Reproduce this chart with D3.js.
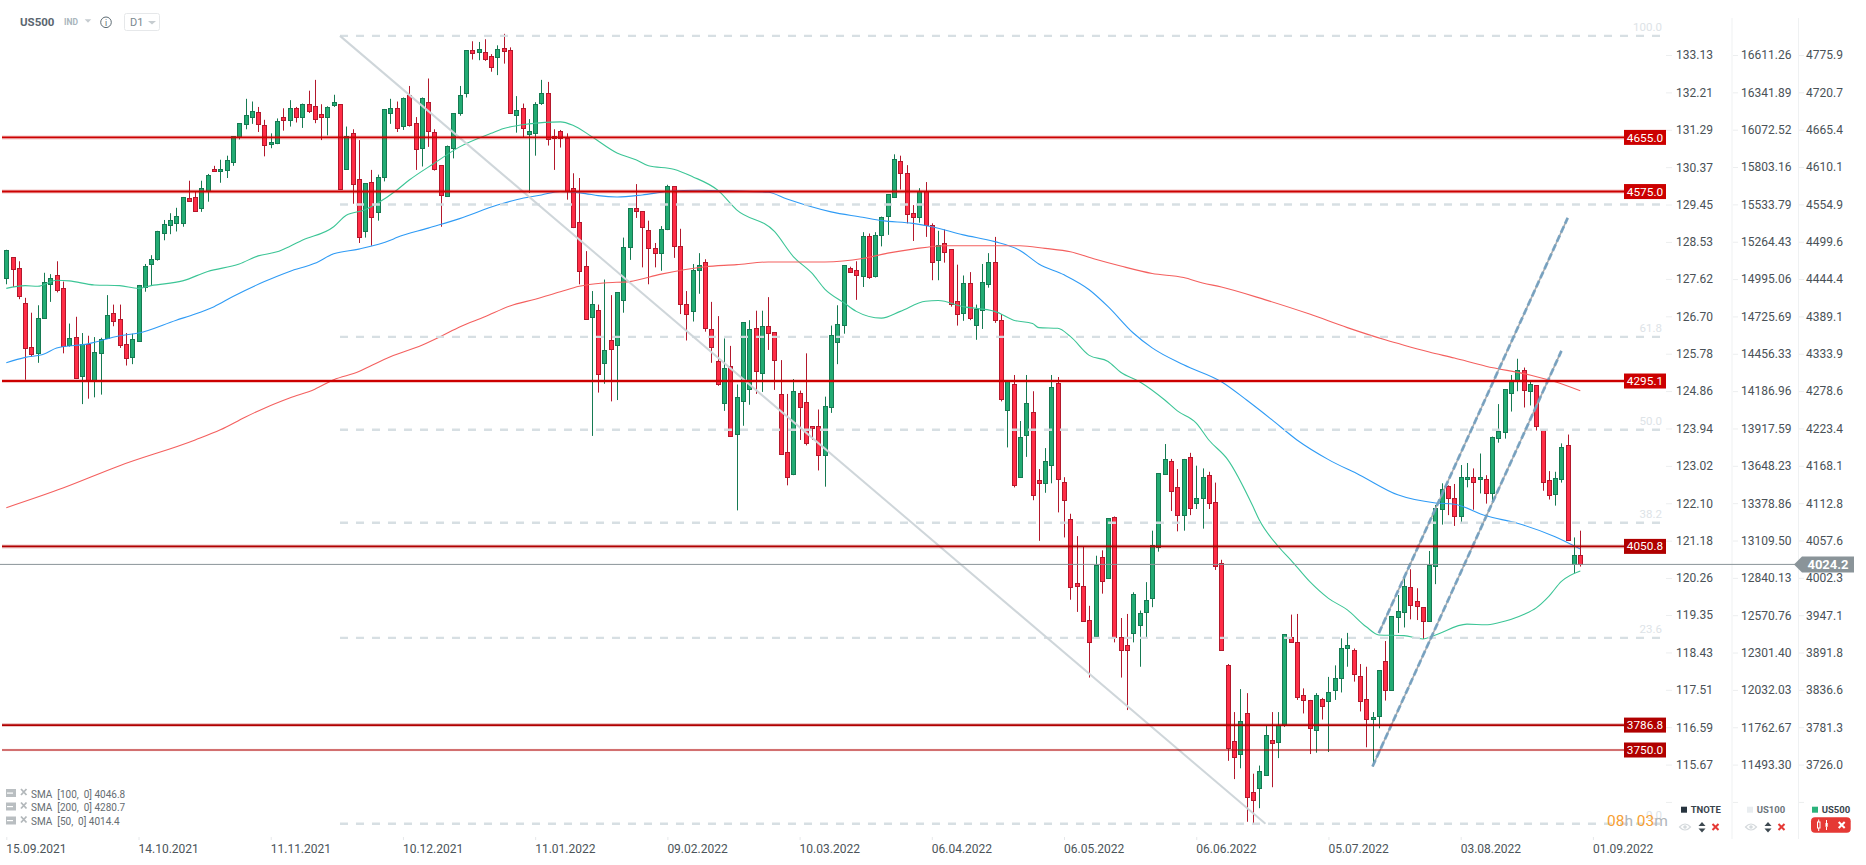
<!DOCTYPE html>
<html><head><meta charset="utf-8">
<script src="https://cdn.jsdelivr.net/npm/d3@7/dist/d3.min.js"></script>
<style>
html,body{margin:0;padding:0;background:#fff;overflow:hidden}
svg{display:block;font-family:Roboto,sans-serif}
</style></head><body>
<svg id="c" width="1866" height="865"></svg>
<script>
// ---- candle values, in index points ----
const opens=[4448,4478,4462,4411,4346,4337,4388,4438,4451,4432,
4348,4360,4303,4350,4295,4337,4358,4395,4386,4350,
4330,4355,4434,4468,4474,4513,4525,4529,4528,4566,
4567,4550,4576,4609,4606,4606,4619,4655,4674,4685,
4692,4674,4645,4646,4685,4680,4698,4686,4704,4702,
4689,4685,4702,4704,4608,4661,4593,4516,4589,4544,
4596,4690,4698,4671,4717,4677,4639,4708,4663,4614,
4569,4640,4691,4720,4784,4780,4781,4775,4773,4787,
4784,4687,4698,4660,4662,4705,4720,4657,4664,4654,
4580,4530,4465,4390,4400,4322,4356,4347,4415,4493,
4551,4546,4518,4491,4483,4520,4583,4494,4409,4398,
4459,4471,4372,4324,4262,4318,4216,4265,4284,4373,
4306,4376,4367,4276,4190,4158,4277,4264,4228,4228,
4185,4256,4353,4378,4462,4459,4451,4510,4451,4510,
4538,4567,4620,4602,4544,4537,4576,4525,4474,4499,
4490,4413,4396,4440,4378,4400,4439,4471,4385,4252,
4290,4154,4214,4249,4149,4144,4172,4292,4146,4091,
3997,3992,3942,3918,4035,4003,4094,3917,3905,3923,
3934,3953,3974,4050,4158,4177,4138,4097,4183,4115,
4122,4156,4116,4026,3876,3763,3744,3804,3688,3694,
3713,3765,3762,3787,3917,3909,3831,3824,3779,3825,
3821,3838,3855,3900,3897,3860,3825,3796,3800,3881,
3838,3947,3954,3991,3970,3961,3940,4021,4105,4140,
4122,4096,4150,4153,4150,4150,4129,4210,4219,4277,
4296,4311,4280,4289,4223,4149,4129,4149,4200,4025,4038];
const highs=[4489,4478,4472,4418,4396,4407,4455,4453,4472,4442,
4380,4390,4366,4362,4360,4359,4422,4408,4408,4366,
4365,4437,4468,4481,4517,4533,4543,4551,4567,4591,
4575,4591,4601,4613,4622,4628,4657,4676,4712,4708,
4700,4681,4661,4683,4698,4710,4700,4705,4724,4740,
4704,4701,4718,4704,4671,4667,4651,4587,4607,4600,
4697,4712,4708,4714,4731,4685,4714,4742,4667,4614,
4643,4691,4731,4784,4797,4796,4800,4778,4791,4808,
4788,4716,4705,4682,4707,4740,4737,4667,4666,4661,
4602,4595,4487,4428,4408,4445,4422,4426,4507,4550,
4586,4546,4532,4499,4524,4585,4583,4520,4428,4468,
4484,4475,4412,4391,4358,4347,4290,4382,4385,4399,
4399,4419,4367,4326,4276,4298,4281,4336,4228,4253,
4272,4377,4407,4466,4464,4472,4515,4513,4515,4538,
4571,4630,4628,4614,4555,4580,4589,4528,4517,4519,
4490,4467,4451,4456,4408,4468,4484,4508,4394,4295,
4304,4236,4304,4280,4165,4196,4304,4301,4153,4099,
4066,4050,3963,4037,4045,4092,4095,3945,3951,3983,
3956,3998,4074,4159,4202,4180,4165,4180,4189,4170,
4166,4161,4145,4031,3877,3806,3840,3834,3715,3727,
3786,3806,3806,3921,3950,3951,3841,3824,3834,3827,
3858,3875,3915,3923,3900,3877,3873,3806,3868,3911,
3948,3979,4005,4017,3989,3961,4044,4112,4144,4141,
4143,4171,4174,4166,4188,4156,4213,4261,4283,4304,
4328,4315,4296,4289,4223,4162,4161,4203,4216,4064,4074];
const lows=[4438,4434,4416,4297,4331,4322,4388,4412,4426,4336,
4346,4298,4261,4269,4271,4275,4358,4376,4344,4318,
4320,4355,4427,4437,4473,4503,4512,4516,4523,4562,
4545,4545,4560,4606,4588,4595,4613,4652,4667,4675,
4663,4627,4639,4645,4665,4671,4677,4669,4691,4676,
4651,4658,4700,4578,4608,4557,4499,4507,4495,4532,
4590,4675,4663,4666,4671,4607,4612,4641,4606,4523,
4567,4624,4687,4714,4770,4769,4768,4752,4747,4764,
4690,4662,4655,4573,4628,4703,4643,4607,4640,4563,
4521,4438,4386,4214,4278,4291,4265,4267,4396,4474,
4536,4463,4438,4463,4458,4518,4477,4394,4355,4383,
4424,4368,4322,4288,4251,4213,4104,4229,4260,4276,
4279,4341,4282,4187,4141,4156,4208,4200,4208,4163,
4139,4248,4320,4365,4455,4415,4434,4446,4448,4494,
4511,4567,4578,4528,4502,4529,4508,4444,4444,4470,
4405,4377,4384,4385,4356,4372,4433,4381,4265,4197,
4138,4154,4183,4119,4059,4130,4144,4101,4064,3972,
3954,3941,3857,3917,3981,4003,3909,3857,3809,3909,
3873,3916,3961,4043,4158,4103,4073,4074,4097,4106,
4077,4106,4016,3898,3734,3707,3723,3644,3641,3664,
3712,3695,3738,3784,3910,3824,3804,3744,3746,3795,
3747,3824,3835,3873,3851,3807,3754,3726,3782,3823,
3838,3923,3931,3943,3942,3914,3940,3995,4083,4097,
4081,4086,4138,4105,4129,4114,4114,4204,4210,4250,
4280,4256,4259,4222,4133,4120,4111,4145,4059,4011,4021];
const closes=[4489,4460,4420,4344,4335,4388,4441,4447,4429,4346,
4358,4299,4350,4295,4338,4357,4392,4383,4347,4329,
4357,4437,4465,4476,4516,4527,4533,4539,4567,4562,
4547,4580,4599,4606,4609,4621,4657,4676,4688,4694,
4674,4645,4648,4679,4680,4698,4685,4705,4694,4683,
4685,4700,4707,4578,4657,4586,4507,4587,4537,4596,
4697,4698,4668,4713,4672,4638,4713,4665,4608,4569,
4643,4691,4717,4784,4780,4785,4771,4759,4785,4783,
4691,4695,4668,4664,4705,4720,4652,4654,4654,4576,
4523,4457,4386,4409,4305,4341,4343,4426,4493,4550,
4547,4522,4491,4483,4519,4583,4494,4409,4394,4459,
4466,4374,4346,4290,4314,4214,4271,4382,4372,4310,
4376,4365,4325,4187,4153,4281,4257,4203,4225,4185,
4258,4363,4380,4466,4456,4451,4510,4449,4511,4537,
4571,4623,4602,4541,4538,4576,4526,4471,4496,4486,
4409,4394,4440,4389,4401,4442,4471,4386,4269,4295,
4141,4213,4262,4127,4145,4177,4287,4150,4119,3990,
3992,3941,3910,4023,4000,4092,3916,3898,3898,3980,
3952,3971,4053,4159,4180,4132,4096,4180,4107,4122,
4153,4115,4022,3898,3754,3739,3793,3680,3676,3719,
3772,3761,3787,3921,3910,3828,3823,3782,3831,3814,
3835,3856,3900,3905,3862,3823,3796,3799,3868,3838,
3948,3956,3993,3965,3962,3940,4023,4107,4135,4123,
4096,4154,4153,4145,4153,4129,4212,4221,4283,4296,
4311,4281,4290,4229,4146,4127,4152,4197,4059,4038,4024.2];

// ---- moving averages: candle number and level, read at the visible bends ----
const sma50Idx=[0,3,5,8,10,14,18,21,23,28,32,37,40,43,45,47,52,54,57,59,62,64,68,72,77,79,83,88,90,93,97,100,102,106,109,113,116,122,125,128,130,133,135,139,142,146,148,152,157,160,163,164,167,169,172,175,177,180,184,186,189,191,194,198,199,202,204,207,210,213,216,218,222,225,227,232,235,237,241,243,245,247,250];
const sma50Val=[4432,4436,4435,4444,4443,4437,4436,4432,4436,4443,4457,4468,4480,4486,4494,4503,4523,4540,4548,4558,4577,4592,4617,4641,4661,4668,4675,4678,4673,4656,4632,4622,4613,4608,4597,4577,4548,4516,4479,4454,4431,4411,4398,4388,4398,4413,4414,4405,4398,4385,4380,4374,4373,4361,4333,4324,4308,4294,4267,4251,4233,4208,4179,4110,4090,4051,4031,3999,3974,3957,3932,3920,3919,3914,3920,3936,3935,3938,3950,3960,3977,3999,4014.4];
const sma100Idx=[0,3,6,8,13,18,21,27,30,33,36,41,45,49,52,56,61,62,67,72,78,81,85,88,92,94,97,101,105,110,115,121,124,131,136,139,144,147,152,157,161,164,168,172,175,179,182,187,193,197,201,205,210,215,221,227,230,235,240,246,250];
const sma100Val=[4322,4330,4335,4344,4350,4362,4366,4385,4394,4405,4420,4442,4457,4469,4483,4490,4503,4507,4521,4535,4555,4563,4570,4575,4572,4569,4567,4570,4575,4577,4576,4574,4564,4545,4537,4532,4528,4523,4511,4501,4488,4468,4452,4430,4405,4366,4344,4319,4294,4267,4238,4208,4179,4156,4127,4115,4113,4096,4085,4065,4046.8];
const sma200Idx=[0,9,18,30,34,38,41,45,49,52,56,58,61,66,69,72,76,80,84,88,91,95,99,104,111,116,121,130,136,140,144,149,161,165,169,173,177,182,187,190,193,200,207,213,219,222,226,230,235,242,246,250];
const sma200Val=[4108,4137,4170,4208,4223,4242,4255,4270,4283,4297,4309,4318,4331,4348,4361,4375,4390,4406,4416,4427,4435,4440,4442,4453,4464,4467,4471,4471,4476,4484,4490,4495,4495,4491,4486,4475,4465,4454,4448,4440,4434,4415,4394,4374,4356,4348,4338,4329,4317,4304,4294,4280.7];

// ---- horizontal levels, fibonacci and channels ----
const levels=[4655.0,4575.0,4295.1,4050.8,3786.8,3750.0];
const levelColors=["#cc0000","#cc0000","#cc0000","#b00000","#b00000","#b00000"];
const fibHigh=4805, fibLow=3641;
const fibLevels=[100,78.6,61.8,50,38.2,23.6,0];
const fibLabels=[100,61.8,50,38.2,23.6,0];
const fibLineIdx=[53,200];
const channelLower=[[217,3725.6],[247,4339.6]];
const channelUpper=[[218,3922.6],[248,4536]];
const lastPrice=4024.2;

// ---- axis labels ----
const dateTickIdx=[0,21,42,63,84,105,126,147,168,189,210,231,252];
const dateLabels=["15.09.2021","14.10.2021","11.11.2021","10.12.2021","11.01.2022","09.02.2022","10.03.2022","06.04.2022","06.05.2022","06.06.2022","05.07.2022","03.08.2022","01.09.2022"];
const tnoteTicks=["133.13","132.21","131.29","130.37","129.45","128.53","127.62","126.70","125.78","124.86","123.94","123.02","122.10","121.18","120.26","119.35","118.43","117.51","116.59","115.67"];
const us100Ticks=["16611.26","16341.89","16072.52","15803.16","15533.79","15264.43","14995.06","14725.69","14456.33","14186.96","13917.59","13648.23","13378.86","13109.50","12840.13","12570.76","12301.40","12032.03","11762.67","11493.30"];
const us500Ticks=["4775.9","4720.7","4665.4","4610.1","4554.9","4499.6","4444.4","4389.1","4333.9","4278.6","4223.4","4168.1","4112.8","4057.6","4002.3","3947.1","3891.8","3836.6","3781.3","3726.0"];
const smaLegend=["SMA  [100,  0] 4046.8","SMA  [200,  0] 4280.7","SMA  [50,  0] 4014.4"];

// ---- scales ----
const x=d3.scaleLinear().domain([0,250]).range([6.3,1580.3]);
const y=d3.scaleLinear().domain([4655,3750]).range([137.4,750]);
const svg=d3.select("#c");

// separators
svg.append("g").selectAll("line").data([1732,1798.5]).join("line")
 .attr("x1",d=>d).attr("x2",d=>d).attr("y1",18).attr("y2",839)
 .attr("stroke","#eff1f2").attr("stroke-width",1);

// candles
const idx=d3.range(opens.length);
const G="#22ab73",GS="#167a52",R="#ff2d46",RS="#b3182c";
const cg=svg.append("g");
const cxp=i=>Math.round(x(i))+.5;
cg.selectAll("line").data(idx).join("line")
 .attr("x1",cxp).attr("x2",cxp)
 .attr("y1",i=>y(highs[i])).attr("y2",i=>y(lows[i]))
 .attr("stroke",i=>closes[i]>=opens[i]?GS:RS).attr("stroke-width",1);
cg.selectAll("rect").data(idx).join("rect")
 .attr("x",i=>cxp(i)-2).attr("width",4)
 .attr("y",i=>Math.round(y(Math.max(opens[i],closes[i])))+.5)
 .attr("height",i=>Math.max(1,Math.round(y(Math.min(opens[i],closes[i]))-y(Math.max(opens[i],closes[i])))))
 .attr("fill",i=>closes[i]>=opens[i]?G:R)
 .attr("stroke",i=>closes[i]>=opens[i]?GS:RS).attr("stroke-width",1);

// SMAs
const smaLine=d3.line().x(d=>x(d[0])).y(d=>y(d[1])).curve(d3.curveMonotoneX);
[[sma50Idx,sma50Val,"#3cc596"],[sma100Idx,sma100Val,"#2f9bf5"],[sma200Idx,sma200Val,"#f4605f"]].forEach(([a,b,c])=>{
 svg.append("path").datum(a.map((v,i)=>[v,b[i]])).attr("d",smaLine)
  .attr("fill","none").attr("stroke",c).attr("stroke-width",1.1);
});

// fibonacci
const fibPrice=p=>fibLow+(fibHigh-fibLow)*p/100;
const fg=svg.append("g");
fg.selectAll("line").data(fibLevels).join("line")
 .attr("x1",x(fibLineIdx[0])).attr("x2",1661)
 .attr("y1",d=>y(fibPrice(d))).attr("y2",d=>y(fibPrice(d)))
 .attr("stroke","#d5dde2").attr("stroke-opacity",.95).attr("stroke-width",2.4).attr("stroke-dasharray","8,8");
fg.selectAll("text").data(fibLabels).join("text")
 .attr("x",1662).attr("y",d=>y(fibPrice(d))-5).attr("text-anchor","end")
 .attr("font-size",11.5).attr("fill","#dde3e7").text(d=>d.toFixed(1));
svg.append("line")
 .attr("x1",x(fibLineIdx[0])).attr("y1",y(fibHigh)).attr("x2",x(fibLineIdx[1])).attr("y2",y(fibLow))
 .attr("stroke","#cfd6da").attr("stroke-width",2);

// channels
[channelLower,channelUpper].forEach(c=>{
 const l=d3.line().x(d=>x(d[0])).y(d=>y(d[1]));
 svg.append("path").attr("d",l(c)).attr("stroke","#a9acae").attr("stroke-width",1.6).attr("fill","none");
 svg.append("path").attr("d",l(c)).attr("stroke","#6f9dbf").attr("stroke-width",2.8).attr("stroke-dasharray","7,3").attr("fill","none").attr("stroke-opacity",.85);
});

// last price line
svg.append("line").attr("x1",0).attr("x2",1800).attr("y1",y(lastPrice)).attr("y2",y(lastPrice))
 .attr("stroke","#8a9499").attr("stroke-width",1);

// levels
const lg=svg.append("g");
levels.forEach((v,i)=>{
 const yy=y(v), c=levelColors[i];
 const thin=i===5;
 lg.append("line").attr("x1",2).attr("x2",1624).attr("y1",yy).attr("y2",yy).attr("stroke",c).attr("stroke-opacity",thin?.12:.22).attr("stroke-width",thin?2.6:4);
 lg.append("line").attr("x1",2).attr("x2",1624).attr("y1",yy).attr("y2",yy).attr("stroke",c).attr("stroke-width",thin?1.1:1.9);
 lg.append("rect").attr("x",1624).attr("y",yy-7.5).attr("width",42).attr("height",15).attr("fill",c);
 lg.append("text").attr("x",1645).attr("y",yy+4.1).attr("text-anchor","middle").attr("fill","#fff")
  .attr("font-size",11.8).text(v.toFixed(1));
});

// last price tag
const ly=y(lastPrice);
svg.append("path").attr("d",d3.line()([[1794,ly],[1802,ly-8],[1854,ly-8],[1854,ly+8],[1802,ly+8]])+"Z").attr("fill","#8a9499");
svg.append("text").attr("x",1828).attr("y",ly+4.5).attr("text-anchor","middle").attr("fill","#fff")
 .attr("font-size",13).attr("font-weight",700).text("4024.2");

// price axes
const axisStyle=g=>{
 g.select(".domain").remove();
 g.selectAll(".tick line").attr("stroke","#eceeef");
 g.selectAll(".tick text").attr("fill","#4a5257").attr("font-size",12).attr("font-family","Roboto,sans-serif");
};
const axisRange=[764.6,55];
[[tnoteTicks,1666,4,6],[us100Ticks,1733,3,5],[us500Ticks,1799,2,5]].forEach(([t,px,pad,size])=>{
 const vals=t.map(Number);
 const s=d3.scaleLinear().domain([vals[19],vals[0]]).range(axisRange);
 const step=(vals[0]-vals[19])/19;
 const ax=d3.axisRight(s).tickValues(vals).tickSize(size).tickPadding(pad).tickFormat((d,i)=>t[i]);
 axisStyle(svg.append("g").attr("transform",`translate(${px},0)`).call(ax));
 // the next tick below the last label has no label: it sits behind the footer
 const ax2=d3.axisRight(s).tickValues([vals[19]-step]).tickSize(size).tickFormat("");
 axisStyle(svg.append("g").attr("transform",`translate(${px},0)`).call(ax2));
});

// date axis
const dax=d3.axisBottom(x).tickValues(dateTickIdx).tickSize(3).tickPadding(4).tickFormat((d,i)=>dateLabels[i]);
const dg=svg.append("g").attr("transform","translate(0,837)").call(dax);
dg.select(".domain").remove();
dg.selectAll(".tick line").attr("stroke","#e6e8ea");
dg.selectAll(".tick text").attr("text-anchor","start").attr("dx",-0.5).attr("fill","#4b5459").attr("font-size",12).attr("font-family","Roboto,sans-serif");

// header
const h=svg.append("g");
h.append("text").attr("x",20).attr("y",26).attr("font-size",11.5).attr("font-weight",700).attr("fill","#5a6670").text("US500");
h.append("text").attr("x",64).attr("y",25).attr("font-size",8.5).attr("font-weight",700).attr("fill","#a9b5bc").text("IND");
h.append("path").attr("d","M84.7 19.3h6.6l-3.3 3.4z").attr("fill","#c6ccd0");
h.append("circle").attr("cx",106).attr("cy",22.3).attr("r",5.3).attr("fill","none").attr("stroke","#5e6b73").attr("stroke-width",1);
h.append("text").attr("x",106).attr("y",25.5).attr("text-anchor","middle").attr("font-size",8.5).attr("fill","#5e6b73").text("i");
h.append("rect").attr("x",124.5).attr("y",13.5).attr("width",35).attr("height",17).attr("rx",2).attr("fill","#fff").attr("stroke","#e6e8ea");
h.append("text").attr("x",130).attr("y",26).attr("font-size",11).attr("fill","#7a8890").text("D1");
h.append("path").attr("d","M148 21h8l-4 3.4z").attr("fill","#c6ccd0");

// SMA legend
const sl=svg.append("g");
smaLegend.forEach((t,i)=>{
 const yy=[794,807.5,821.5][i];
 sl.append("rect").attr("x",6).attr("y",yy-5).attr("width",10).attr("height",8).attr("fill","#b9bec1");
 sl.append("rect").attr("x",7).attr("y",yy-1.5).attr("width",6).attr("height",1.2).attr("fill","#fff");
 sl.append("path").attr("d",`M21 ${yy-5}l5.5 6M26.5 ${yy-5}l-5.5 6`).attr("stroke","#b3b8bb").attr("stroke-width",1.8);
 sl.append("text").attr("x",31).attr("y",yy+3.8).style("white-space","pre")
  .attr("font-size",10).attr("fill","#666d72").text(t);
});

// countdown
const cd=svg.append("text").attr("x",1607).attr("y",826).attr("font-size",15.5);
cd.append("tspan").attr("fill","#f7a033").text("08");
cd.append("tspan").attr("fill","#b0b6ba").text("h ");
cd.append("tspan").attr("fill","#f7a033").text("03");
cd.append("tspan").attr("fill","#b0b6ba").text("m");

// footer instruments
const foot=[["TNOTE",1681,"#27343f"],["US100",1747,"#e9edf0"],["US500",1812,"#2bb37c"]];
const ft=svg.append("g");
foot.forEach(([n,fx,c],i)=>{
 ft.append("rect").attr("x",fx).attr("y",806.7).attr("width",6).attr("height",6).attr("fill",c);
 ft.append("text").attr("x",fx+9.7).attr("y",813).attr("font-size",9.5).attr("font-weight",700).attr("fill",i===1?"#6d767c":"#3a444c").text(n);
 if(i<2){
  const ex=fx+4, yy=827;
  ft.append("path").attr("d",`M${ex-5.5} ${yy}Q${ex} ${yy-6} ${ex+5.5} ${yy}Q${ex} ${yy+6} ${ex-5.5} ${yy}Z`).attr("fill","none").attr("stroke","#d5dadd").attr("stroke-width",1.2);
  ft.append("circle").attr("cx",ex).attr("cy",yy).attr("r",1.8).attr("fill","#d5dadd");
  const ax=fx+21;
  ft.append("path").attr("d",`M${ax-3.5} ${yy-1}l3.5-4 3.5 4zM${ax-3.5} ${yy+1.5}l3.5 4 3.5-4z`).attr("fill","#3d4850");
  const rx=fx+34.5;
  ft.append("path").attr("d",`M${rx-3} ${yy-3}l6 6M${rx+3} ${yy-3}l-6 6`).attr("stroke","#e53935").attr("stroke-width",2);
 }else{
  ft.append("rect").attr("x",1811).attr("y",817.3).attr("width",39.7).attr("height",15.4).attr("rx",4).attr("fill","#e53935");
  const w="#fff";
  ft.append("rect").attr("x",1817.5).attr("y",822).attr("width",2.5).attr("height",6).attr("fill","none").attr("stroke",w);
  ft.append("path").attr("d","M1818.7 819.5v2.5M1818.7 828v3M1826.5 820v3M1826.5 827v3").attr("stroke",w);
  ft.append("rect").attr("x",1825.5).attr("y",823).attr("width",2.2).attr("height",3.8).attr("fill",w);
  ft.append("path").attr("d","M1838.7 822l6 6M1844.7 822l-6 6").attr("stroke",w).attr("stroke-width",2);
 }
});
</script>
</body></html>
